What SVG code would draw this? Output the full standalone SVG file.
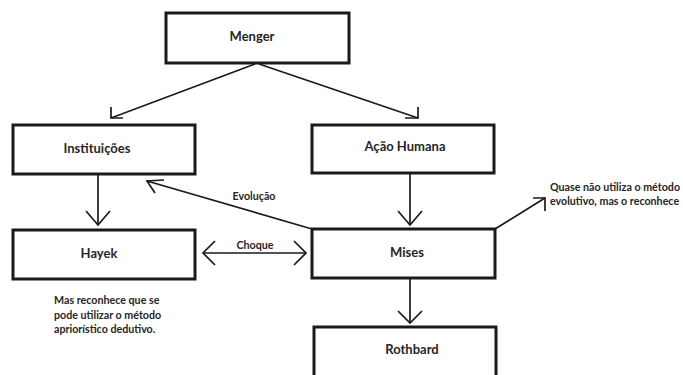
<svg xmlns="http://www.w3.org/2000/svg" width="683" height="375" viewBox="0 0 683 375">
<style>
.box{fill:#fff;stroke:#1a1a1a;stroke-width:3}
.lbl{font-family:Lato,"Open Sans",sans-serif;font-weight:bold;font-size:13px;fill:#262626;text-anchor:middle}
.sm{font-family:Lato,"Open Sans",sans-serif;font-weight:bold;font-size:10.7px;fill:#262626}
.ln{fill:none;stroke:#1a1a1a;stroke-width:1.7}
</style>
<rect width="683" height="375" fill="#fff"/>
<g id="connectors">
<line class="ln" x1="255" y1="64" x2="111" y2="118"/>
<polyline class="ln" points="111,107 111,118 123,118"/>
<line class="ln" x1="259" y1="64" x2="418" y2="118"/>
<polyline class="ln" points="418,107 418,118 405,118"/>
<line class="ln" x1="98" y1="174" x2="98" y2="225"/>
<polyline class="ln" points="86,211 98,225 110,211"/>
<line class="ln" x1="410" y1="173" x2="410" y2="225"/>
<polyline class="ln" points="398,211 410,225 422,211"/>
<line class="ln" x1="312" y1="229" x2="147" y2="181"/>
<polyline class="ln" points="164,180 147,181 155,193"/>
<line class="ln" x1="203" y1="253" x2="306" y2="253"/>
<polyline class="ln" points="215,241 203,253 215,265"/>
<polyline class="ln" points="294,241 306,253 294,265"/>
<line class="ln" x1="495" y1="229" x2="545" y2="198"/>
<polyline class="ln" points="533,198 545,198 545,211"/>
<line class="ln" x1="410" y1="278" x2="410" y2="323"/>
<polyline class="ln" points="398,311 410,323 422,311"/>
<text class="sm" x="254" y="200" text-anchor="middle">Evolução</text>
<text class="sm" x="255" y="249" text-anchor="middle">Choque</text>
</g>
<g id="menger"><rect class="box" x="166" y="13" width="183" height="50"/><text class="lbl" x="252" y="41">Menger</text></g>
<g id="instituicoes"><rect class="box" x="13" y="125" width="182" height="49"/><text class="lbl" x="97" y="153">Instituições</text></g>
<g id="acao-humana"><rect class="box" x="312" y="125" width="182" height="48"/><text class="lbl" x="405" y="151">Ação Humana</text></g>
<g id="hayek"><rect class="box" x="13" y="230" width="182" height="49"/><text class="lbl" x="99" y="258">Hayek</text></g>
<g id="mises"><rect class="box" x="312" y="229" width="183" height="49"/><text class="lbl" x="407" y="257">Mises</text></g>
<g id="rothbard"><rect class="box" x="314" y="327" width="182" height="60"/><text class="lbl" x="412" y="354">Rothbard</text></g>
<g id="nota-hayek"><text class="sm" x="54" y="304">Mas reconhece que se</text><text class="sm" x="54" y="318.5">pode utilizar o método</text><text class="sm" x="54" y="333">apriorístico dedutivo.</text></g>
<g id="nota-mises"><text class="sm" x="550" y="191">Quase não utiliza o método</text><text class="sm" x="550" y="205">evolutivo, mas o reconhece</text></g>
</svg>
